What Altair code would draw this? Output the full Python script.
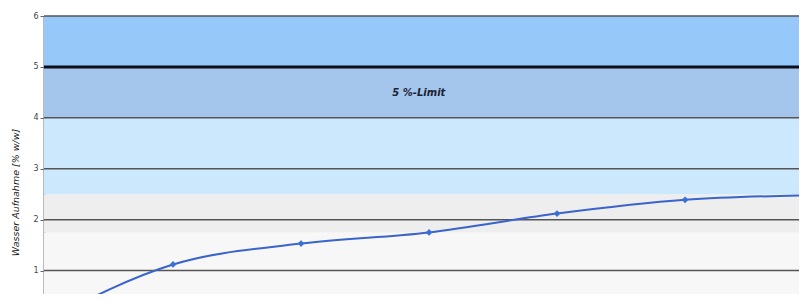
import altair as alt
import pandas as pd

# Data
x_vals = [0, 1, 2, 3, 4, 5, 6]
water = [0.0, 1.12, 1.53, 1.75, 2.12, 2.39, 2.48]

band_lo = [0.0, 1.75, 2.5, 4.0, 5.0]
band_hi = [1.75, 2.5, 4.0, 5.0, 6.0]
band_color = ["#F7F7F7", "#EEEEEE", "#CCE8FD", "#A5C6EC", "#96C8FA"]

grid_vals = [1, 2, 3, 4, 6]
limit_val = [5]
y_ticks = [1, 2, 3, 4, 5, 6]

label_text = ["5 %-Limit"]
label_x = [2.92]
label_y = [4.49]

W, H = 755, 278
Y_DOM = [0.54, 6]
X_DOM = [-0.008, 5.89]

df = pd.DataFrame({"x": x_vals, "y": water})
bands = pd.DataFrame({"lo": band_lo, "hi": band_hi, "c": band_color})
grid = pd.DataFrame({"y": grid_vals})
lim = pd.DataFrame({"y": limit_val})
lab = pd.DataFrame({"t": label_text, "x": label_x, "y": label_y})

yscale = alt.Scale(domain=Y_DOM, nice=False, zero=False)
xscale = alt.Scale(domain=X_DOM, nice=False, zero=False)

yaxis = alt.Axis(
    values=y_ticks, grid=False, labelFontSize=8, labelColor="#444444",
    labelFont="DejaVu Sans", tickSize=4, tickColor="#666666",
    domainColor="#777777", domainWidth=2, labelPadding=2,
    title="Wasser Aufnahme [% w/w]", titleFontSize=9.5, titleFontStyle="italic",
    titleFontWeight="normal", titleFont="DejaVu Sans", titleColor="#1A1A1A",
    titleAngle=-90, titleX=-29, titleY=176, titleAlign="center",
    titleBaseline="middle",
)

rects = alt.Chart(bands).mark_rect(clip=True).encode(
    x=alt.value(0), x2=alt.value(W),
    y=alt.Y("lo:Q", scale=yscale, axis=yaxis),
    y2="hi:Q",
    color=alt.Color("c:N", scale=None),
)

grid_rules = alt.Chart(grid).mark_rule(color="#555555", strokeWidth=1.5).encode(
    x=alt.value(0), x2=alt.value(W),
    y=alt.Y("y:Q", scale=yscale),
)

limit_rule = alt.Chart(lim).mark_rule(color="#0A0F1E", strokeWidth=3).encode(
    x=alt.value(0), x2=alt.value(W),
    y=alt.Y("y:Q", scale=yscale),
)

line = alt.Chart(df).mark_line(
    color="#3A64CC", strokeWidth=2, interpolate="monotone", clip=True
).encode(
    x=alt.X("x:Q", scale=xscale, axis=None),
    y=alt.Y("y:Q", scale=yscale),
)

pts = alt.Chart(df).mark_point(
    shape="diamond", filled=True, size=45, color="#3A6FD8", opacity=1, clip=True
).encode(
    x=alt.X("x:Q", scale=xscale, axis=None),
    y=alt.Y("y:Q", scale=yscale),
)

txt = alt.Chart(lab).mark_text(
    fontSize=10, fontStyle="italic", fontWeight="bold", color="#1A2233",
    font="DejaVu Sans", align="center", baseline="middle",
).encode(
    x=alt.X("x:Q", scale=xscale, axis=None),
    y=alt.Y("y:Q", scale=yscale),
    text="t:N",
)

chart = alt.layer(rects, grid_rules, limit_rule, line, pts, txt).properties(
    width=W, height=H,
    autosize=alt.AutoSizeParams(type="none"),
    padding={"left": 36, "top": 8, "right": 0, "bottom": 0},
    background="white",
).configure_view(stroke=None)

chart.save("out.html", embed_options={"renderer": "svg", "actions": False})
